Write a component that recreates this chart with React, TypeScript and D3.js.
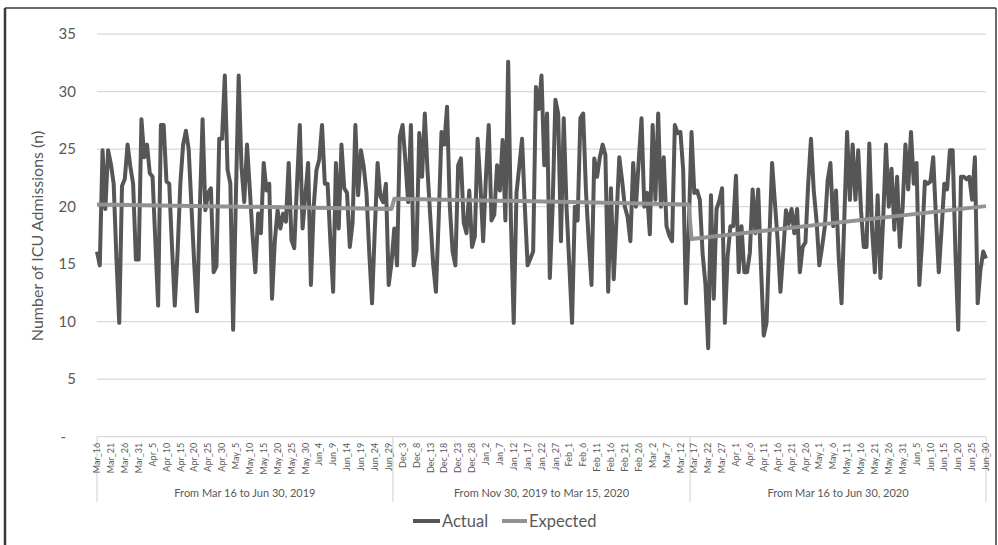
import React from "react";
import * as d3 from "d3";

const groupLabels = [
  "From Mar 16 to Jun 30, 2019",
  "From Nov 30, 2019 to Mar 15, 2020",
  "From Mar 16 to Jun 30, 2020",
];
const groupSizes = [107, 107, 107];

// tick labels every 5th category (index 0, 5, 10, ...)
const tickLabels = [
  "Mar_16","Mar_21","Mar_26","Mar_31","Apr_5","Apr_10","Apr_15","Apr_20","Apr_25","Apr_30",
  "May_5","May_10","May_15","May_20","May_25","May_30","Jun_4","Jun_9","Jun_14","Jun_19",
  "Jun_24","Jun_29",
  "Dec_3","Dec_8","Dec_13","Dec_18","Dec_23","Dec_28","Jan_2","Jan_7","Jan_12","Jan_17",
  "Jan_22","Jan_27","Feb_1","Feb_6","Feb_11","Feb_16","Feb_21","Feb_26","Mar_2","Mar_7","Mar_12",
  "Mar_17","Mar_22","Mar_27","Apr_1","Apr_6","Apr_11","Apr_16","Apr_21","Apr_26","May_1",
  "May_6","May_11","May_16","May_21","May_26","May_31","Jun_5","Jun_10","Jun_15","Jun_20",
  "Jun_25","Jun_30",
];

const actual2019 = [
  16.1, 14.9, 24.9, 19.8, 24.9, 23.7, 22.0, 15.5, 9.9, 21.8,
  22.4, 25.4, 23.5, 22.0, 15.4, 15.4, 27.6, 24.3, 25.4, 22.9,
  22.6, 17.0, 11.4, 27.1, 27.1, 22.2, 22.0, 16.5, 11.4, 16.0,
  22.0, 25.4, 26.6, 25.0, 20.0, 15.0, 10.9, 19.7, 27.6, 19.7,
  21.2, 21.6, 14.3, 14.8, 25.9, 25.9, 31.4, 23.2, 22.0, 9.3,
  21.0, 31.4, 23.5, 20.4, 25.4, 21.5, 17.5, 14.3, 19.4, 17.7,
  23.8, 21.4, 22.0, 12.0, 17.0, 19.7, 18.1, 19.4, 18.7, 23.8,
  17.1, 16.4, 22.0, 27.1, 18.1, 21.0, 23.8, 13.2, 20.0, 23.2,
  24.1, 27.1, 22.0, 22.0, 17.0, 12.6, 23.8, 18.1, 25.4, 21.6,
  21.2, 16.5, 18.6, 27.1, 21.0, 24.9, 23.5, 21.2, 16.0, 11.6,
  18.0, 23.8, 20.9, 20.4, 22.0, 13.2, 15.1,
];

const actualWinter = [
  18.1, 14.9, 26.1, 27.1, 24.0, 20.4, 27.1, 14.9, 16.2, 26.4,
  22.6, 28.1, 23.0, 19.0, 15.0, 12.6, 19.0, 26.5, 25.4, 28.7,
  20.0, 16.1, 14.9, 23.6, 24.2, 18.6, 17.7, 21.4, 16.5, 17.4,
  25.9, 22.0, 17.0, 22.6, 27.1, 18.8, 19.3, 23.6, 21.4, 25.8,
  18.8, 32.6, 18.7, 9.9, 21.2, 23.5, 25.9, 20.0, 14.9, 15.5,
  16.1, 30.4, 28.5, 31.4, 23.6, 28.1, 13.8, 20.0, 29.3, 28.1,
  17.0, 27.7, 20.0, 15.0, 9.9, 20.0, 18.8, 27.7, 28.1, 21.4,
  17.0, 13.2, 24.2, 22.6, 24.3, 25.4, 24.5, 12.6, 21.6, 13.7,
  19.0, 24.3, 22.3, 20.0, 19.1, 17.0, 23.8, 20.0, 24.0, 27.7,
  20.0, 21.2, 17.6, 27.1, 20.6, 28.1, 20.0, 24.3, 18.3, 17.5,
  17.0, 27.1, 26.4, 26.5, 23.2, 11.6, 18.0,
];

const actual2020 = [
  26.5, 21.2, 21.4, 20.6, 15.9, 13.3, 7.7, 21.0, 12.0, 19.8,
  20.5, 21.6, 9.9, 15.7, 18.3, 18.3, 22.7, 14.3, 18.3, 14.3,
  14.3, 16.0, 21.5, 17.7, 21.5, 14.8, 8.8, 9.9, 17.0, 23.8,
  20.4, 17.1, 12.6, 16.0, 19.7, 18.5, 19.8, 17.7, 19.8, 14.3,
  16.5, 16.9, 22.0, 25.9, 21.4, 18.8, 14.9, 16.5, 18.3, 22.3,
  23.8, 18.3, 21.4, 15.5, 11.6, 19.0, 26.5, 20.6, 25.4, 20.6,
  24.9, 19.7, 16.5, 16.5, 25.5, 18.0, 14.3, 21.0, 13.8, 19.0,
  25.4, 20.0, 23.3, 18.0, 22.6, 16.5, 20.0, 25.4, 21.5, 26.5,
  22.0, 23.8, 13.2, 17.0, 22.2, 22.0, 22.2, 24.3, 19.0, 14.3,
  18.0, 22.0, 21.5, 24.9, 24.9, 16.0, 9.3, 22.6, 22.6, 22.4,
  22.6, 20.6, 24.3, 11.6, 14.5, 16.1, 15.5,
];

// Expected: straight trend per period, given by its end points (category index, value)
const expectedIndex = [0, 106, 107, 213, 214, 320];
const expectedValue = [20.2, 19.8, 20.7, 20.2, 17.2, 20.05];

const yTicks = [0, 5, 10, 15, 20, 25, 30, 35];

const W = 998;
const H = 545;
const FONT = "Lato, 'Open Sans', sans-serif";
const TXT = "#595959";

export default function App() {
  const actual = [...actual2019, ...actualWinter, ...actual2020];
  const n = actual.length;
  const x = d3.scaleLinear().domain([0, n - 1]).range([97, 986]);
  const y = d3.scaleLinear().domain([0, 35]).range([436.7, 34.2]);

  const line = d3
    .line<[number, number]>()
    .x((d) => x(d[0]))
    .y((d) => y(d[1]));

  const actualPath = line(actual.map((v, i) => [i, v]))!;
  const expectedPath = line(expectedIndex.map((ix, k) => [ix, expectedValue[k]]))!;

  // group boundaries
  const bounds: number[] = [];
  let acc = 0;
  bounds.push(-0.5);
  groupSizes.forEach((s) => {
    acc += s;
    bounds.push(acc - 0.5);
  });
  const bx = (b: number) => Math.max(x(0), Math.min(x(n - 1), x(b)));

  const axisY = y(0);

  return (
    <svg
      width={W}
      height={H}
      style={{ position: "absolute", left: 0, top: 0, background: "#fff" }}
      fontFamily={FONT}
    >
      <rect x={0} y={0} width={W} height={H} fill="#fff" />
      {/* frame */}
      <line x1={5} y1={8} x2={5} y2={H} stroke="#3a3a3a" strokeWidth={2.5} />
      <line x1={5} y1={8} x2={996} y2={8} stroke="#3a3a3a" strokeWidth={1.5} />
      <line x1={996} y1={8} x2={996} y2={H} stroke="#3a3a3a" strokeWidth={1.5} />

      {/* gridlines */}
      {yTicks.slice(1).map((t) => (
        <line key={t} x1={x(0)} x2={x(n - 1)} y1={y(t)} y2={y(t)} stroke="#d9d9d9" strokeWidth={1.2} />
      ))}
      {/* y tick labels */}
      {yTicks.map((t) => (
        <text
          key={"yl" + t}
          x={t === 0 ? 66 : 76}
          y={y(t)}
          dy="0.35em"
          textAnchor="end"
          fontSize={15}
          fill={TXT}
        >
          {t === 0 ? "-" : String(t)}
        </text>
      ))}
      {/* y title */}
      <text
        transform={`translate(43,${236}) rotate(-90)`}
        textAnchor="middle"
        fontSize={16}
        fill={TXT}
      >
        Number of ICU Admissions (n)
      </text>

      {/* category axis */}
      <line x1={x(0)} x2={x(n - 1)} y1={axisY} y2={axisY} stroke="#d9d9d9" strokeWidth={1.2} />
      {bounds.map((b, k) => (
        <line key={"b" + k} x1={bx(b)} x2={bx(b)} y1={axisY} y2={502} stroke="#d9d9d9" strokeWidth={1.2} />
      ))}
      {tickLabels.map((lab, k) => (
        <text
          key={"xt" + k}
          transform={`translate(${x(k * 5)},${axisY + 6}) rotate(-90)`}
          textAnchor="end"
          dy="0.35em"
          fontSize={9}
          fill={TXT}
        >
          {lab}
        </text>
      ))}
      {groupLabels.map((g, k) => (
        <text
          key={"g" + k}
          x={(bx(bounds[k]) + bx(bounds[k + 1])) / 2}
          y={497}
          textAnchor="middle"
          fontSize={11}
          fill={TXT}
        >
          {g}
        </text>
      ))}

      {/* series */}
      <path d={actualPath} fill="none" stroke="#565656" strokeWidth={4} strokeLinejoin="round" />
      <path d={expectedPath} fill="none" stroke="#929292" strokeWidth={4} strokeLinejoin="round" />

      {/* legend */}
      <line x1={413} x2={440} y1={521} y2={521} stroke="#565656" strokeWidth={4} />
      <text x={442} y={521} dy="0.35em" fontSize={16.5} fill={TXT}>Actual</text>
      <line x1={502} x2={527} y1={521} y2={521} stroke="#929292" strokeWidth={4} />
      <text x={529} y={521} dy="0.35em" fontSize={16.5} fill={TXT}>Expected</text>
    </svg>
  );
}
